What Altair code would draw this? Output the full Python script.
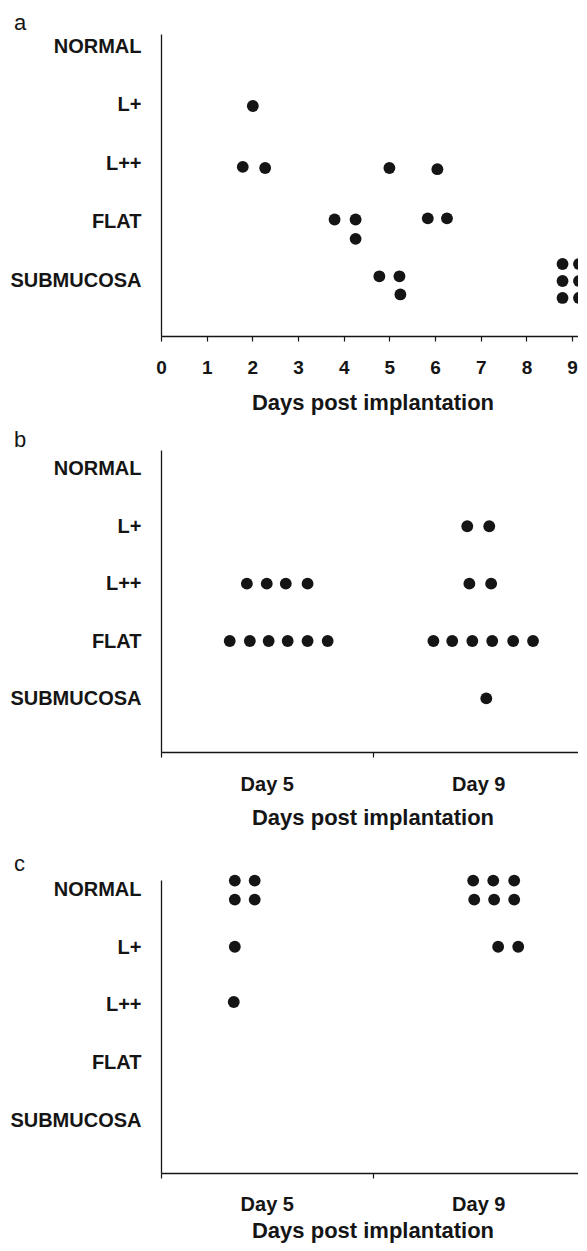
import altair as alt
import pandas as pd

FONT = "Liberation Sans"
INK = "#151515"

# Y categories (top to bottom) and their numeric levels
categories = ["NORMAL", "L+", "L++", "FLAT", "SUBMUCOSA"]
levels = [5, 4, 3, 2, 1]

# Panel a: days post implantation vs score
a_day = [2.01, 1.79, 2.28, 5.00, 6.05, 3.80, 4.26, 4.26, 5.84, 6.26,
         4.78, 5.22, 5.24, 8.79, 9.15, 8.79, 9.15, 8.79, 9.15]
a_score = [3.98, 2.94, 2.92, 2.92, 2.90, 2.04, 2.04, 1.71, 2.06, 2.06,
           1.07, 1.07, 0.76, 1.28, 1.28, 0.99, 0.99, 0.70, 0.70]
a_ticks = [0, 1, 2, 3, 4, 5, 6, 7, 8, 9]

# Panel b: Day 5 / Day 9 groups
b_pos = [1.448, 1.552,
         0.406, 0.500, 0.590, 0.693, 1.458, 1.561,
         0.325, 0.420, 0.509, 0.599, 0.693, 0.788,
         1.288, 1.377, 1.472, 1.566, 1.665, 1.759,
         1.538]
b_score = [4, 4,
           3, 3, 3, 3, 3, 3,
           2, 2, 2, 2, 2, 2,
           2, 2, 2, 2, 2, 2,
           1]

# Panel c
c_pos = [0.349, 0.443, 0.349, 0.443, 0.349, 0.344,
         1.476, 1.571, 1.670, 1.481, 1.575, 1.670, 1.594, 1.689]
c_score = [5.16, 5.16, 4.83, 4.83, 4.01, 3.05,
           5.16, 5.16, 5.16, 4.83, 4.83, 4.83, 4.01, 4.01]

day_labels = ["Day 5", "Day 9"]
day_label_pos = [0.5, 1.5]
group_edges = [0, 1, 2]

label_list = [""] + [categories[levels.index(v)] for v in range(1, 6)]
label_list = [("L+\u00a0\u00a0" if s == "L+" else s) for s in label_list]
y_expr = "[" + ",".join("'" + s + "'" for s in label_list) + "][datum.value]"

x_title = "Days post implantation"
PLOT_W = 423


def y_axis():
    return alt.Axis(values=levels, labelExpr=y_expr, title=None, ticks=False,
                    labelPadding=20, labelFont=FONT, labelFontSize=20,
                    labelFontWeight="bold", labelColor=INK, labelOverlap=False,
                    labelFlush=False, domainColor=INK, domainWidth=1.3,
                    grid=False, labelAlign="right", labelBaseline="middle")


def x_axis_common(**kw):
    return dict(title=x_title, titleFont=FONT, titleFontSize=22,
                titleFontWeight="bold", titleColor=INK, labelFont=FONT,
                labelFontWeight="bold", labelColor=INK, tickSize=5,
                tickColor=INK, tickWidth=1.2, domainColor=INK, domainWidth=1.3,
                grid=False, labelOverlap=False, labelFlush=False, **kw)


def panel(df, letter, xscale, xaxis, ydomain, height, toffset, clip):
    return alt.Chart(df).mark_circle(size=140, color=INK, opacity=1, clip=clip).encode(
        x=alt.X("x:Q", scale=xscale, axis=xaxis),
        y=alt.Y("y:Q", scale=alt.Scale(domain=ydomain, nice=False, zero=False), axis=y_axis()),
    ).properties(
        width=PLOT_W, height=height,
        title=alt.TitleParams(letter, anchor="start", offset=toffset, fontSize=22,
                              font=FONT, fontWeight="normal", color=INK, dx=4),
    )


df_a = pd.DataFrame({"x": a_day, "y": a_score})
df_b = pd.DataFrame({"x": b_pos, "y": b_score})
df_c = pd.DataFrame({"x": c_pos, "y": c_score})

axis_a = alt.Axis(values=a_ticks, format="d", labelFontSize=19,
                  **x_axis_common(labelPadding=17, titlePadding=15))

day_expr = ("datum.value == %s ? '%s' : (datum.value == %s ? '%s' : '')"
            % (day_label_pos[0], day_labels[0], day_label_pos[1], day_labels[1]))
tick_cond = {"condition": {"test": "datum.value == %s || datum.value == %s"
                           % (day_label_pos[0], day_label_pos[1]), "value": 0},
             "value": 1}


def axis_days(lp, tp):
    return alt.Axis(values=sorted(group_edges + day_label_pos), labelExpr=day_expr,
                    labelFontSize=20, tickOpacity=tick_cond,
                    **x_axis_common(labelPadding=lp, titlePadding=tp))


pa = panel(df_a, "a", alt.Scale(domain=[0, 9.26], nice=False, zero=False),
           axis_a, [0.05, 5.21], 302, -1, True)
pb = panel(df_b, "b", alt.Scale(domain=[0, 2], nice=False, zero=False),
           axis_days(17, 13), [0.065, 5.33], 302, -2, True)
pc = panel(df_c, "c", alt.Scale(domain=[0, 2], nice=False, zero=False),
           axis_days(16, 6), [0.08, 5.17], 293, -1, False)

chart = alt.vconcat(pa, alt.vconcat(pb, pc, spacing=24), spacing=16).properties(
    padding={"left": 1, "top": 4, "right": -7, "bottom": 2},
    background="white",
).configure_view(stroke=None)

chart.save("out.html", embed_options={"renderer": "svg", "actions": False})
